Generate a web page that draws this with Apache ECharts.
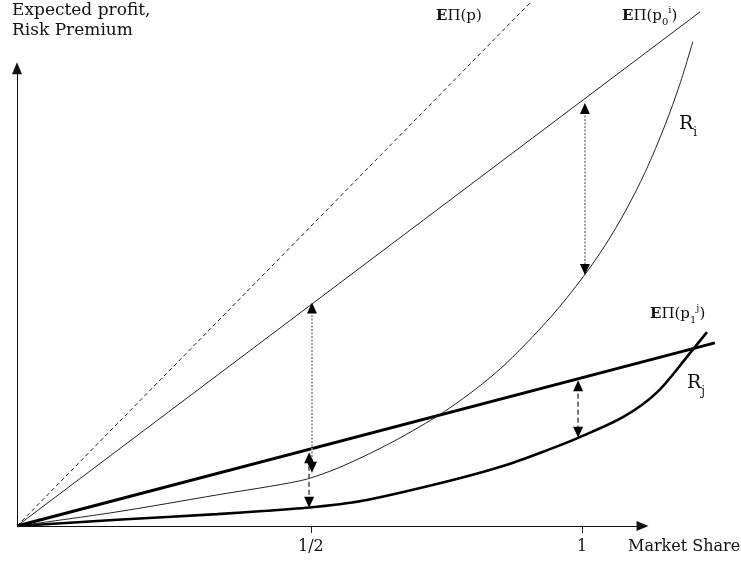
<!DOCTYPE html>
<html>
<head>
<meta charset="utf-8">
<script src="https://cdn.jsdelivr.net/npm/echarts@6/dist/echarts.min.js"></script>
<style>html,body{margin:0;padding:0;background:#fff;}#c{width:741px;height:567px;}</style>
</head>
<body>
<div id="c"></div>
<script>
// x: market share, y: expected profit / risk premium (arbitrary units)
const tickValues = [0.52, 1];
const tickLabels = ['1/2', '1'];
const axisEnds = { x: 1.107, y: 0.81 };            // ends of the drawn axes (arrowheads beyond)

const epP    = [[0, 0], [0.908, 0.926]];          // EΠ(p), dashed
const epP0i  = [[0, 0], [1.209, 0.910]];          // EΠ(p0^i)
const epP1j  = [[0, 0], [1.235, 0.324]];          // EΠ(p1^j), thick
const rI = [[0,0],[0.177,0.025],[0.354,0.055],[0.501,0.080],[0.554,0.097],[0.607,0.120],
            [0.678,0.156],[0.766,0.209],[0.855,0.278],[0.943,0.368],[1.002,0.441],[1.041,0.497],
            [1.076,0.556],[1.112,0.627],[1.147,0.710],[1.173,0.782],[1.196,0.857]];
const rJ = [[0,0],[0.177,0.011],[0.354,0.021],[0.442,0.027],[0.531,0.034],[0.619,0.046],[0.766,0.080],
            [0.860,0.106],[0.943,0.136],[0.993,0.156],[1.073,0.193],[1.133,0.237],[1.191,0.306],
            [1.221,0.343]];

// risk-premium arrows: [x, yTop, yBottom] (line ends; arrowheads extend slightly beyond)
const dottedArrows = [[0.522, 0.386, 0.104], [1.005, 0.739, 0.454]];
const dashedArrows = [[0.517, 0.121, 0.042], [0.993, 0.248, 0.166]];

const SERIF = '"DejaVu Serif", "Liberation Serif", serif';

function arrowLines(list) {
  return list.map(a => [{ coord: [a[0], a[1]] }, { coord: [a[0], a[2]] }]);
}
function ml(data, lineStyle, symbol, size) {
  return { silent: true, animation: false, symbol: symbol || ['none', 'none'], symbolSize: size || [9, 11],
           label: { show: false }, emphasis: { disabled: true }, lineStyle, data };
}

const chart = echarts.init(document.getElementById('c'), null, { renderer: 'canvas' });
chart.setOption({
  animation: false,
  backgroundColor: '#fff',
  grid: { left: 17, right: 12, top: 0.5, bottom: 41 },
  xAxis: {
    type: 'value', min: 0, max: 1.26,
    splitLine: { show: false },
    axisLine: { show: false },
    axisTick: { show: true, length: 7, customValues: tickValues, lineStyle: { color: '#222' } },
    axisLabel: {
      customValues: tickValues, margin: 13, color: '#111', fontFamily: SERIF, fontSize: 16,
      formatter: v => { const i = tickValues.findIndex(t => Math.abs(t - v) < 1e-6); return i >= 0 ? tickLabels[i] : ''; }
    }
  },
  yAxis: {
    type: 'value', min: 0, max: 0.93,
    splitLine: { show: false }, axisLine: { show: false },
    axisTick: { show: false }, axisLabel: { show: false }
  },
  series: [
    { type: 'line', data: [], symbol: 'none', silent: true,
      markLine: ml([[{ coord: [0, 0] }, { coord: [axisEnds.x, 0] }], [{ coord: [0, 0] }, { coord: [0, axisEnds.y] }]],
                   { color: '#111', width: 1, type: 'solid' }, ['none', 'triangle'], [10, 12]) },
    { type: 'line', data: epP, symbol: 'none', silent: true,
      lineStyle: { color: '#222', width: 1, type: [4, 3] } },
    { type: 'line', data: epP0i, symbol: 'none', silent: true,
      lineStyle: { color: '#222', width: 1 } },
    { type: 'line', data: epP1j, symbol: 'none', silent: true,
      lineStyle: { color: '#000', width: 3 } },
    { type: 'line', data: rI, symbol: 'none', silent: true, smooth: 0.3,
      lineStyle: { color: '#222', width: 1 } },
    { type: 'line', data: rJ, symbol: 'none', silent: true, smooth: 0.3,
      lineStyle: { color: '#000', width: 2.6 } },
    { type: 'line', data: [], symbol: 'none', silent: true,
      markLine: ml(arrowLines(dottedArrows), { color: '#8a8a8a', width: 1.6, type: [2, 1.5] }) },
    { type: 'line', data: [], symbol: 'none', silent: true,
      markLine: ml(arrowLines(dashedArrows), { color: '#555', width: 1.6, type: [5, 3] }) },
    { type: 'line', data: [], symbol: 'none', silent: true,
      markLine: ml(arrowLines(dottedArrows.concat(dashedArrows)), { color: '#000', width: 0, type: 'solid' }, ['triangle', 'triangle'], [10, 11]) }
  ],
  graphic: [
    { type: 'text', left: 12, top: 1, style: { text: 'Expected profit,\nRisk Premium', font: '17px ' + SERIF, fill: '#111', lineHeight: 20 } },
    { type: 'text', left: 628, top: 539, style: { text: 'Market Share', font: '16px ' + SERIF, fill: '#111' } },
    { type: 'text', left: 436, top: 9, style: { text: '{b|E}{n|Π(p)}', rich: {
        b: { font: 'bold 15px ' + SERIF, fill: '#111' }, n: { font: '15px ' + SERIF, fill: '#111' } } } },
    { type: 'text', left: 622, top: 5, style: { text: '{b|E}{n|Π(p}{s|0}{u|i}{n|)}', rich: {
        b: { font: 'bold 15px ' + SERIF, fill: '#111', lineHeight: 22, verticalAlign: 'middle' },
        n: { font: '15px ' + SERIF, fill: '#111', lineHeight: 22, verticalAlign: 'middle' },
        s: { font: '10px ' + SERIF, fill: '#111', lineHeight: 22, verticalAlign: 'bottom' },
        u: { font: '10px ' + SERIF, fill: '#111', lineHeight: 22, verticalAlign: 'top' } } } },
    { type: 'text', left: 650, top: 303, style: { text: '{b|E}{n|Π(p}{s|1}{u|j}{n|)}', rich: {
        b: { font: 'bold 15px ' + SERIF, fill: '#111', lineHeight: 22, verticalAlign: 'middle' },
        n: { font: '15px ' + SERIF, fill: '#111', lineHeight: 22, verticalAlign: 'middle' },
        s: { font: '10px ' + SERIF, fill: '#111', lineHeight: 22, verticalAlign: 'bottom' },
        u: { font: '10px ' + SERIF, fill: '#111', lineHeight: 22, verticalAlign: 'top' } } } },
    { type: 'text', left: 679, top: 115, style: { text: '{n|R}{s|i}', rich: {
        n: { font: '19px ' + SERIF, fill: '#111', lineHeight: 26, verticalAlign: 'middle' },
        s: { font: '12px ' + SERIF, fill: '#111', lineHeight: 28, verticalAlign: 'bottom' } } } },
    { type: 'text', left: 687, top: 374, style: { text: '{n|R}{s|j}', rich: {
        n: { font: '19px ' + SERIF, fill: '#111', lineHeight: 26, verticalAlign: 'middle' },
        s: { font: '12px ' + SERIF, fill: '#111', lineHeight: 28, verticalAlign: 'bottom' } } } }
  ]
});
</script>
</body>
</html>
